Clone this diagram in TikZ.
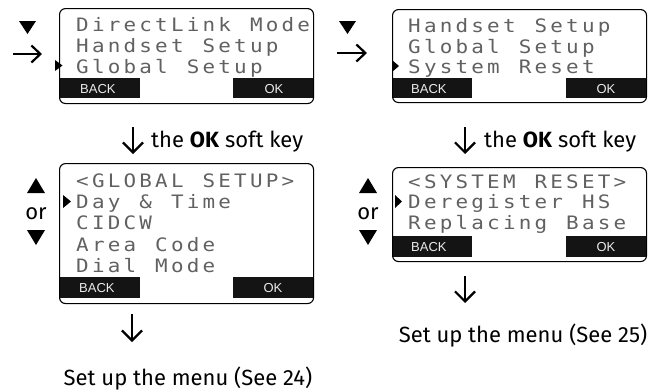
\documentclass[tikz,border=0pt]{standalone}
\usepackage{fontspec}
\setmainfont{Fira Sans}
\newfontfamily\lcdfont{DejaVu Sans Mono}
\newfontfamily\softfont{Liberation Sans}
\usetikzlibrary{arrows.meta}
\makeatletter
\newcommand\lcdtxt[1]{\lcd@step#1\relax}
\def\lcd@step#1{\ifx\relax#1\else\makebox[15.8pt][l]{\scalebox{1.13}[1]{#1}}\expandafter\lcd@step\fi}
\makeatother
\tikzset{
  lcd/.style={font=\lcdfont\fontsize{18.5}{20}\selectfont, text=black!62, inner sep=0pt, anchor=base west},
  lcdbox/.style={draw=black, line width=1.1pt, rounded corners=6pt, inner sep=0pt, anchor=north west},
  softbar/.style={fill=black!92},
  softlbl/.style={font=\softfont\fontsize{13}{14}\selectfont, text=white!92!black, inner sep=0pt, anchor=base},
  sel/.style={fill=black},
  tri/.style={fill=black},
  lbl/.style={font=\fontsize{22}{25}\selectfont, inner sep=0pt, anchor=base},
  dnarrow/.style={line width=2.2pt, -{Straight Barb[length=10pt,width=20pt]}},
  rtarrow/.style={line width=2.2pt, -{Straight Barb[length=9pt,width=17pt]}},
}
\begin{document}
\begin{tikzpicture}[x=1pt,y=-1pt]
\useasboundingbox (0,0) rectangle (661,391);

% ---------- Screen A (top left)
\fill[softbar] (59,78) rectangle (140,98);
\fill[softbar] (233,78) rectangle (313,98);
\node[lcdbox, minimum width=254pt, minimum height=95pt] (scrA) at (59,8) {};
\node[softlbl, anchor=base west] (scrAback) at (80,93) {BACK};
\node[softlbl] (scrAok) at (274,93) {OK};
\node[lcd] (scrA1) at (76,31.5) {\lcdtxt{DirectLink~Mode}};
\node[lcd] (scrA2) at (76,52.5) {\lcdtxt{Handset~Setup}};
\node[lcd] (scrA3) at (76,73) {\lcdtxt{Global~Setup}};
\fill[sel] (55,60) -- (62.5,65.5) -- (55,71) -- cycle;

% ---------- Screen B (middle left)
\fill[softbar] (59,277) rectangle (140,298);
\fill[softbar] (233,277) rectangle (313,298);
\node[lcdbox, minimum width=254pt, minimum height=140pt] (scrB) at (59,163) {};
\node[softlbl, anchor=base west] (scrBback) at (79,292) {BACK};
\node[softlbl] (scrBok) at (273,292) {OK};
\node[lcd] (scrB1) at (76,187) {\lcdtxt{<GLOBAL~SETUP>}};
\node[lcd] (scrB2) at (76,208) {\lcdtxt{Day~\&~Time}};
\node[lcd] (scrB3) at (76,229.5) {\lcdtxt{CIDCW}};
\node[lcd] (scrB4) at (76,251) {\lcdtxt{Area~Code}};
\node[lcd] (scrB5) at (76,272) {\lcdtxt{Dial~Mode}};
\fill[sel] (63,195) -- (71,201.5) -- (63,208) -- cycle;

% ---------- Screen C (top right)
\fill[softbar] (392,78) rectangle (472,98);
\fill[softbar] (566,78) rectangle (646,98);
\node[lcdbox, minimum width=254pt, minimum height=93pt] (scrC) at (392,9) {};
\node[softlbl, anchor=base west] (scrCback) at (411,93) {BACK};
\node[softlbl] (scrCok) at (606,93) {OK};
\node[lcd] (scrC1) at (408,32.5) {\lcdtxt{Handset~Setup}};
\node[lcd] (scrC2) at (408,53) {\lcdtxt{Global~Setup}};
\node[lcd] (scrC3) at (408,73.5) {\lcdtxt{System~Reset}};
\fill[sel] (392,60) -- (399,66) -- (392,72) -- cycle;

% ---------- Screen D (middle right)
\fill[softbar] (392,236) rectangle (472,257);
\fill[softbar] (566,236) rectangle (646,257);
\node[lcdbox, minimum width=254pt, minimum height=94pt] (scrD) at (392,167) {};
\node[softlbl, anchor=base west] (scrDback) at (411,251) {BACK};
\node[softlbl] (scrDok) at (606,251) {OK};
\node[lcd] (scrD1) at (408,188) {\lcdtxt{<SYSTEM~RESET>}};
\node[lcd] (scrD2) at (408,208.5) {\lcdtxt{Deregister~HS}};
\node[lcd] (scrD3) at (408,229) {\lcdtxt{Replacing~Base}};
\fill[sel] (395,195) -- (402,201.5) -- (395,208) -- cycle;

% ---------- key symbols
\fill[tri] (19,21) -- (36,21) -- (27.5,34) -- cycle;
\fill[tri] (339,21) -- (356,21) -- (347.5,34) -- cycle;
\coordinate (rtAs) at (13,54); \coordinate (rtAe) at (42,54);
\draw[rtarrow] (rtAs) -- (rtAe);
\coordinate (rtCs) at (337,53); \coordinate (rtCe) at (367,53);
\draw[rtarrow] (rtCs) -- (rtCe);

\fill[tri] (27,193) -- (45,193) -- (36,178) -- cycle;
\node[lbl] (orL) at (36,219) {or};
\fill[tri] (27,230) -- (45,230) -- (36,245) -- cycle;
\fill[tri] (359,193) -- (377,193) -- (368,178) -- cycle;
\node[lbl] (orR) at (368,219) {or};
\fill[tri] (359,230) -- (377,230) -- (368,245) -- cycle;

% ---------- down arrows and labels
\coordinate (dAs) at (133,127); \coordinate (dAe) at (133,154);
\draw[dnarrow] (dAs) -- (dAe);
\node[lbl, anchor=base west] (okL) at (151,147) {the \textbf{OK} soft key};
\coordinate (dCs) at (465,127); \coordinate (dCe) at (465,154);
\draw[dnarrow] (dCs) -- (dCe);
\node[lbl, anchor=base west] (okR) at (484,147) {the \textbf{OK} soft key};

\coordinate (dBs) at (132,314); \coordinate (dBe) at (132,342);
\draw[dnarrow] (dBs) -- (dBe);
\node[lbl] (setL) at (188,385) {Set up the menu (See 24)};
\coordinate (dDs) at (465,276); \coordinate (dDe) at (465,303);
\draw[dnarrow] (dDs) -- (dDe);
\node[lbl] (setR) at (523,342) {Set up the menu (See 25)};
\end{tikzpicture}
\end{document}
